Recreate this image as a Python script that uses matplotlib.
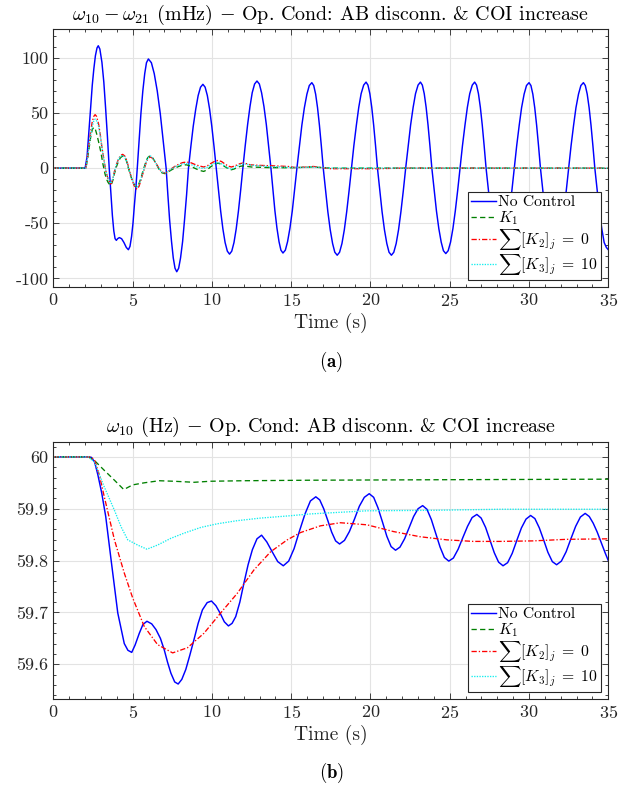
import matplotlib
matplotlib.use("Agg")
import matplotlib.pyplot as plt
from matplotlib.ticker import MultipleLocator

plt.rcParams["font.family"] = ["cmr10", "DejaVu Serif"]
plt.rcParams["mathtext.fontset"] = "cm"
plt.rcParams["axes.formatter.use_mathtext"] = True

# --------------------------------------------------------------------------
# (a) omega_10 - omega_21 (mHz)
# --------------------------------------------------------------------------
t_a_nc = [0, 2.0, 2.12, 2.25, 2.35, 2.45, 2.55, 2.65, 2.75, 2.83, 2.93, 3.06,
          3.18, 3.29, 3.41, 3.52, 3.62, 3.72, 3.81, 3.89, 3.97, 4.05, 4.16,
          4.30, 4.45, 4.60, 4.73, 4.83, 4.93, 5.02, 5.10, 5.20, 5.29,
          5.41, 5.52, 5.64, 5.76, 5.87, 5.99, 6.18, 6.36, 6.55, 6.74, 6.92, 7.11,
          7.22, 7.33, 7.45, 7.56, 7.67, 7.78, 7.90, 8.02, 8.15, 8.27, 8.40, 8.52,
          8.67, 8.82, 8.98, 9.13, 9.28, 9.43, 9.57, 9.71, 9.85, 9.99, 10.13, 10.27,
          10.41, 10.55, 10.69, 10.83, 10.97, 11.11, 11.25, 11.39, 11.53, 11.67, 11.81, 11.95,
          12.10, 12.25, 12.40, 12.54, 12.69, 12.84, 12.99, 13.13, 13.28, 13.43, 13.57, 13.72,
          13.85, 13.97, 14.10, 14.23, 14.35, 14.48, 14.63, 14.77, 14.92, 15.07, 15.21, 15.36,
          15.52, 15.67, 15.83, 15.99, 16.14,
          16.30, 16.42, 16.54, 16.66, 16.78, 16.90, 17.02, 17.17, 17.31, 17.46, 17.61, 17.75,
          17.90, 18.05, 18.20, 18.35, 18.50, 18.65, 18.80, 18.95, 19.11, 19.26, 19.41, 19.57,
          19.72, 19.84, 19.96, 20.08, 20.20, 20.32, 20.44, 20.59, 20.73, 20.88, 21.03, 21.17,
          21.32, 21.47, 21.62, 21.77, 21.92, 22.07, 22.22, 22.38, 22.53, 22.69, 22.84, 23.00,
          23.15, 23.27, 23.39, 23.51, 23.63, 23.75, 23.87, 24.02, 24.16, 24.31, 24.46, 24.60,
          24.75, 24.90, 25.05, 25.20, 25.35, 25.50, 25.65, 25.80, 25.96, 26.11, 26.26, 26.42,
          26.57, 26.69, 26.81, 26.93, 27.05, 27.17, 27.29, 27.44, 27.58, 27.73, 27.88, 28.02,
          28.17, 28.32, 28.47, 28.62, 28.77, 28.92, 29.07, 29.22, 29.38, 29.53, 29.69, 29.84,
          30.00, 30.12, 30.24, 30.36, 30.48, 30.60, 30.72, 30.87, 31.01, 31.16, 31.31, 31.45,
          31.60, 31.75, 31.90, 32.05, 32.20, 32.35, 32.50, 32.65, 32.81, 32.96, 33.12, 33.27,
          33.43, 33.55, 33.67, 33.79, 33.91, 34.03, 34.15, 34.30, 34.44, 34.59, 34.74, 34.88,
          35.0]
v_a_nc = [0, 0, 10, 35, 55, 75, 90, 102, 109, 111, 108, 96,
          78, 55, 28, 0, -22, -43, -57, -64, -65.5, -64, -63,
          -64, -67.5, -72, -74, -71, -62, -50, -35, -18, 0,
          25.6, 49.5, 70, 85.7, 95.6, 99, 95.6, 85.7, 70, 49.5, 25.6, 0,
          -24.3, -47, -66.5, -81.4, -90.8, -94, -90.8, -81.4, -66.5, -47, -24.3, 0,
          19.7, 38, 53.7, 65.8, 73.4, 76, 73.4, 65.8, 53.7, 38, 19.7, 0,
          -20.2, -39, -55.1, -67.5, -75.3, -78, -75.3, -67.5, -55.1, -39, -20.2, 0,
          20.5, 39.5, 55.9, 68.4, 76.3, 79, 76.3, 68.4, 55.9, 39.5, 20.5, 0,
          -19.9, -38.5, -54.4, -66.7, -74.4, -77, -74.4, -66.7, -54.4, -38.5, -19.9, 0,
          20.1, 38.8, 54.8, 67.1, 74.9,
          77.5, 74.9, 67.1, 54.8, 38.8, 20.1, 0, -20.5, -39.5, -55.9, -68.4, -76.3,
          -79, -76.3, -68.4, -55.9, -39.5, -20.5, 0, 20.2, 39, 55.1, 67.5, 75.3,
          78, 75.3, 67.5, 55.1, 39, 20.2, 0, -20.5, -39.5, -55.9, -68.4, -76.3,
          -79, -76.3, -68.4, -55.9, -39.5, -20.5, 0, 20.2, 39, 55.1, 67.5, 75.3,
          78, 75.3, 67.5, 55.1, 39, 20.2, 0, -20.1, -38.8, -54.8, -67.1, -74.9,
          -77.5, -74.9, -67.1, -54.8, -38.8, -20.1, 0, 20.2, 39, 55.1, 67.5, 75.3,
          78, 75.3, 67.5, 55.1, 39, 20.2, 0, -20.2, -39, -55.1, -67.5, -75.3,
          -78, -75.3, -67.5, -55.1, -39, -20.2, 0, 20.1, 38.8, 54.8, 67.1, 74.9,
          77.5, 74.9, 67.1, 54.8, 38.8, 20.1, 0, -20.2, -39, -55.1, -67.5, -75.3,
          -78, -75.3, -67.5, -55.1, -39, -20.2, 0, 20.1, 38.8, 54.8, 67.1, 74.9,
          77.5, 74.9, 67.1, 54.8, 38.8, 20.1, 0, -20.2, -39, -55.1, -67.5, -72,
          -74]

t_a_k1 = [0, 2.05, 2.15, 2.25, 2.35, 2.45, 2.55, 2.65, 2.75, 2.88, 3.0, 3.12,
          3.25, 3.35, 3.45, 3.55, 3.64, 3.75, 3.85, 3.97, 4.1, 4.23, 4.37, 4.5,
          4.6, 4.72, 4.85, 4.97, 5.1, 5.2, 5.29, 5.4, 5.5, 5.62, 5.75, 5.85,
          5.95, 6.05, 6.13, 6.25, 6.4, 6.55, 6.7, 6.85, 7.03, 7.2, 7.4, 7.65,
          7.9, 8.15, 8.39, 8.65, 8.9, 9.2, 9.48, 9.7, 9.9, 10.15, 10.38, 10.6,
          10.8, 11.0, 11.22, 11.4, 11.6, 11.8, 11.96, 12.2, 12.5, 13.5, 15.0,
          16.3, 17.5, 35]
v_a_k1 = [0, 0, 8, 18, 28, 35, 37, 35, 30, 22, 14, 4,
          -5, -10, -13, -15, -15.5, -11, -5, 1, 6, 9.5, 11, 9.5,
          7, 0.5, -6, -11, -15, -16.5, -17, -14, -10, -4, 2, 6.5,
          9.5, 10.8, 11, 9.5, 6, 2, -2, -4.3, -5, -4, -2, 0,
          1.5, 2.7, 3, 1.8, 0, -2, -3, -1.5, 1, 3.5, 4.5, 3.5,
          1.5, -0.3, -1.5, -0.8, 0.5, 1.7, 2, 1.6, 1, 0.5, 0.3,
          1, 0, 0]

t_a_k2 = [0, 2.05, 2.15, 2.25, 2.35, 2.45, 2.55, 2.63, 2.72, 2.85, 2.95, 3.05,
          3.18, 3.3, 3.45, 3.62, 3.75, 3.85, 3.97, 4.1, 4.23, 4.37, 4.5, 4.6,
          4.72, 4.85, 4.97, 5.1, 5.2, 5.29, 5.4, 5.5, 5.62, 5.75, 5.85, 5.95,
          6.05, 6.13, 6.25, 6.4, 6.55, 6.7, 6.85, 7.03, 7.2, 7.4, 7.65, 7.9,
          8.15, 8.39, 8.65, 8.9, 9.2, 9.48, 9.7, 9.9, 10.15, 10.38, 10.6, 10.8,
          11.0, 11.22, 11.4, 11.6, 11.8, 11.96, 12.2, 12.4, 13.0, 14.0, 14.8,
          15.3, 16.0, 16.4, 16.9, 17.5, 19.0, 20.5, 22.0, 35]
v_a_k2 = [0, 0, 10, 22, 33, 42, 47, 48.5, 47, 40, 31, 20,
          8, -2, -10, -14.5, -10, -3, 3, 8, 11.5, 12.5, 11, 8,
          2, -5, -11, -16, -18.5, -19, -16.5, -12, -6, 0, 5, 8,
          9.7, 10, 9, 6, 2.5, -1, -3.5, -4.5, -3.5, -1, 1.5, 3.5,
          5, 5.5, 5, 3.5, 2, 1, 2, 4, 6, 7, 6, 4,
          2, 1, 1.8, 3, 4.2, 4.5, 4, 3, 2.5, 2, 1.5,
          0.5, 1, 1.5, 0.5, -0.5, -0.5, -0.5, 0, 0]

t_a_k3 = [0, 2.05, 2.15, 2.25, 2.35, 2.45, 2.55, 2.63, 2.72, 2.85, 2.95, 3.05,
          3.18, 3.3, 3.45, 3.62, 3.75, 3.85, 3.97, 4.1, 4.23, 4.37, 4.5, 4.6,
          4.72, 4.85, 4.97, 5.1, 5.2, 5.29, 5.4, 5.5, 5.62, 5.75, 5.85, 5.95,
          6.05, 6.13, 6.25, 6.4, 6.55, 6.7, 6.85, 7.03, 7.2, 7.4, 7.65, 7.9,
          8.15, 8.39, 8.65, 8.9, 9.2, 9.48, 9.7, 9.9, 10.15, 10.38, 10.6, 10.8,
          11.0, 11.22, 11.4, 11.6, 11.8, 11.96, 12.2, 12.5, 13.5, 14.5, 15.5,
          16.3, 17.5, 35]
v_a_k3 = [0, 0, 9, 20, 30, 38, 43, 44.5, 43, 38, 30, 20,
          8, -2, -9.5, -14, -9.5, -3, 3, 8, 10.8, 11.5, 10, 7,
          1, -5, -10.5, -15, -16.7, -17, -14.5, -11, -5, 1, 5.5, 9,
          10.7, 11, 9.3, 6, 2.2, -1.5, -3.8, -4.5, -3.5, -1, 1, 2.5,
          3.8, 4.2, 3.3, 2, 0.5, -0.3, 0.8, 2.5, 4.2, 5, 4, 2,
          0.3, -1, 0.3, 2, 3.5, 4, 3.5, 2.5, 1.5, 1, 0.5,
          1, 0, 0]

yticks_a = [-100, -50, 0, 50, 100]
ylabels_a = ["-100", "-50", "0", "50", "100"]

# --------------------------------------------------------------------------
# (b) omega_10 (Hz)
# --------------------------------------------------------------------------
t_b_nc = [0, 2.2, 2.4, 2.6, 2.8, 3.05, 3.3, 3.64, 4.06, 4.47, 4.7, 4.94, 5.15,
          5.42, 5.65, 5.9, 6.2, 6.47, 6.75, 6.99, 7.2, 7.41, 7.65, 7.87, 8.1,
          8.35, 8.6, 8.87, 9.13, 9.4, 9.7, 9.97, 10.25, 10.51, 10.78, 11.04,
          11.27, 11.5, 11.76, 12.02, 12.28, 12.55, 12.84, 13.13, 13.46, 13.8,
          14.15, 14.5, 14.84, 15.18, 15.52, 15.87, 16.21,
          16.55, 16.8, 17.05, 17.3, 17.55, 17.8, 18.05, 18.36, 18.67, 18.99,
          19.3, 19.61, 19.92, 20.2, 20.47, 20.75, 21.03, 21.3, 21.58, 21.86,
          22.15, 22.43, 22.72, 23.0, 23.29, 23.56, 23.84, 24.11, 24.39, 24.66,
          24.94, 25.23, 25.53, 25.82, 26.12, 26.41, 26.71, 26.98, 27.26, 27.53,
          27.81, 28.08, 28.36, 28.65, 28.94, 29.23, 29.52, 29.81, 30.1, 30.37,
          30.65, 30.92, 31.19, 31.47, 31.74, 32.04, 32.34, 32.64, 32.94, 33.24,
          33.54, 33.8, 34.05, 34.3, 34.55, 34.8, 35.0]
v_b_nc = [60, 60, 59.999, 59.99, 59.966, 59.93, 59.885, 59.801, 59.699, 59.64,
          59.627, 59.623, 59.637, 59.66, 59.677, 59.683, 59.678, 59.667, 59.65,
          59.628, 59.604, 59.583, 59.566, 59.562, 59.571, 59.59, 59.617, 59.648,
          59.679, 59.705, 59.719, 59.722, 59.713, 59.699, 59.682, 59.674,
          59.679, 59.692, 59.72, 59.757, 59.792, 59.821, 59.842, 59.849, 59.836,
          59.817, 59.798, 59.79, 59.799, 59.823, 59.857, 59.890, 59.915,
          59.923, 59.917, 59.900, 59.878, 59.855, 59.838, 59.832, 59.839, 59.856,
          59.88, 59.905, 59.922, 59.929, 59.922, 59.902, 59.875, 59.847, 59.827,
          59.82, 59.826, 59.842, 59.863, 59.885, 59.900, 59.906, 59.899, 59.879,
          59.853, 59.826, 59.806, 59.799, 59.805, 59.822, 59.844, 59.866, 59.883,
          59.889, 59.882, 59.864, 59.84, 59.815, 59.797, 59.79, 59.796, 59.814,
          59.839, 59.863, 59.88, 59.887, 59.881, 59.863, 59.84, 59.816, 59.798,
          59.792, 59.799, 59.817, 59.842, 59.866, 59.884, 59.891, 59.885, 59.872,
          59.855, 59.835, 59.815, 59.800]

t_b_k1 = [0, 2.2, 2.59, 3.21, 3.85, 4.44, 5.0, 5.73, 6.67, 7.6, 8.87, 9.9, 12.0,
          16.2, 25.0, 35.0]
v_b_k1 = [60, 60, 59.993, 59.974, 59.955, 59.937, 59.946, 59.95, 59.954, 59.953,
          59.951, 59.953, 59.954, 59.955, 59.956, 59.957]

t_b_k2 = [0, 2.2, 2.4, 2.59, 2.9, 3.21, 3.85, 4.47, 5.0, 5.73, 6.57, 7.52, 8.46,
          9.5, 10.55, 11.6, 12.65, 13.7, 14.75, 15.58, 16.84, 18.1, 19.78, 21.45,
          23.13, 24.81, 26.48, 28.16, 30.26, 32.36, 35.0]
v_b_k2 = [60, 60, 59.999, 59.994, 59.965, 59.923, 59.84, 59.776, 59.728, 59.673,
          59.638, 59.622, 59.632, 59.66, 59.699, 59.737, 59.782, 59.817, 59.84,
          59.854, 59.867, 59.873, 59.869, 59.856, 59.846, 59.84, 59.837, 59.837,
          59.838, 59.841, 59.842]

t_b_k3 = [0, 2.2, 2.59, 3.21, 3.85, 4.27, 4.69, 5.31, 5.9, 6.57, 7.41, 8.25, 9.3,
          10.34, 11.6, 13.07, 14.75, 16.21, 19.78, 23.97, 28.16, 35.0]
v_b_k3 = [60, 60, 59.99, 59.942, 59.897, 59.865, 59.84, 59.83, 59.822, 59.83,
          59.843, 59.853, 59.864, 59.871, 59.877, 59.882, 59.886, 59.89, 59.896,
          59.897, 59.899, 59.899]

yticks_b = [59.6, 59.7, 59.8, 59.9, 60.0]
ylabels_b = ["59.6", "59.7", "59.8", "59.9", "60"]

labels = ["No Control", r"$K_1$", r"$\sum[K_2]_j\;=\;\mathbf{0}$",
          r"$\sum[K_3]_j\;=\;\mathbf{10}$"]


def style_axes(ax):
    ax.grid(True, which="major", color="#e3e3e3", linewidth=0.8)
    ax.set_axisbelow(True)
    ax.tick_params(which="both", direction="in", top=True, right=True,
                   labelsize=13, colors="#262626")
    ax.tick_params(which="major", length=4, width=0.6)
    ax.tick_params(which="minor", length=2, width=0.6)
    for sp in ax.spines.values():
        sp.set_color("#262626")
        sp.set_linewidth(0.8)
    ax.set_xlim(0, 35)
    ax.xaxis.set_major_locator(MultipleLocator(5))
    ax.xaxis.set_minor_locator(MultipleLocator(1))
    ax.set_xlabel("Time (s)", fontsize=14, labelpad=3, color="#262626")


def draw(ax, series):
    styles = [dict(color="#0000ff", ls="-", lw=1.05),
              dict(color="#008000", ls=(0, (4, 2.5)), lw=0.95),
              dict(color="#ff0000", ls=(0, (4, 1.5, 1, 1.5)), lw=0.95),
              dict(color="#11eeee", ls=(0, (1, 1)), lw=0.95)]
    for (t, v), st, lab in zip(series, styles, labels):
        ax.plot(t, v, label=lab, **st)
    leg = ax.legend(loc="lower right", fontsize=11.3, handlelength=1.6,
                    handletextpad=0.15, labelspacing=0.0, borderpad=0.2,
                    borderaxespad=0.45, fancybox=False, framealpha=1)
    leg.get_frame().set_edgecolor("#262626")
    leg.get_frame().set_linewidth(0.8)


fig = plt.figure(figsize=(6.32, 7.89), dpi=100)
ax1 = fig.add_axes([0.0845, 0.636, 0.878, 0.327])
ax2 = fig.add_axes([0.0845, 0.114, 0.878, 0.326])

draw(ax1, [(t_a_nc, v_a_nc), (t_a_k1, v_a_k1), (t_a_k2, v_a_k2), (t_a_k3, v_a_k3)])
style_axes(ax1)
ax1.set_ylim(-108, 126)
ax1.set_yticks(yticks_a)
ax1.set_yticklabels(ylabels_a)
ax1.yaxis.set_minor_locator(MultipleLocator(10))
ax1.set_title(r"$\omega_{10} - \omega_{21}$ (mHz) $-$ Op. Cond: AB disconn. & COI increase",
              fontsize=14.4, pad=7)

draw(ax2, [(t_b_nc, v_b_nc), (t_b_k1, v_b_k1), (t_b_k2, v_b_k2), (t_b_k3, v_b_k3)])
style_axes(ax2)
ax2.set_ylim(59.533, 60.029)
ax2.set_yticks(yticks_b)
ax2.set_yticklabels(ylabels_b)
ax2.yaxis.set_minor_locator(MultipleLocator(0.02))
ax2.set_title(r"$\omega_{10}$ (Hz) $-$ Op. Cond: AB disconn. & COI increase",
              fontsize=14.4, pad=7)

fig.text(0.524, 0.541, r"$\mathbf{(a)}$", ha="center", va="center", fontsize=13.5)
fig.text(0.524, 0.020, r"$\mathbf{(b)}$", ha="center", va="center", fontsize=13.5)

fig.savefig("out.png", dpi=100)
